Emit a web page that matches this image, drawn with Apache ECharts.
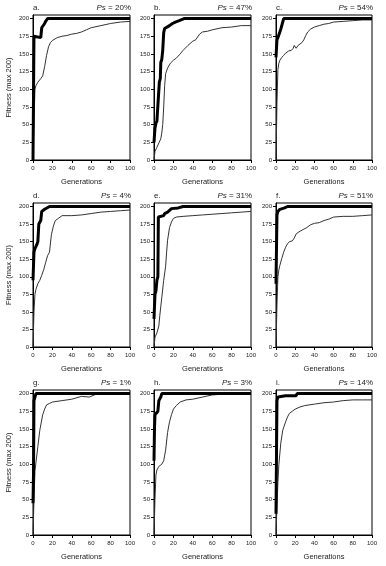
<!DOCTYPE html>
<html><head><meta charset="utf-8">
<script src="https://cdn.jsdelivr.net/npm/echarts@6/dist/echarts.min.js"></script>
<style>html,body{margin:0;padding:0;background:#fff}#c{width:386px;height:566px}</style>
</head><body><div id="c"></div>
<script>
const panelLetters = ['a.','b.','c.','d.','e.','f.','g.','h.','i.'];
const psLabels = ['20%','47%','54%','4%','31%','51%','1%','3%','14%'];
const xTicks = [0,20,40,60,80,100];
const yTicks = [0,25,50,75,100,125,150,175,200];

const bestA = [[0,0],[1,175],[2,173],[8,173],[9,187],[11,188],[12,193],[13,196],[15,200],[100,200]];
const meanA = [[0,0],[1,55],[2,100],[3,105],[5,110],[8,115],[10,119],[12,132],[14,148],[16,160],[18,166],[20,169],[25,173],[30,175],[35,176],[40,178],[45,179],[50,181],[55,184],[60,187],[70,190],[80,193],[90,195],[100,196]];
const bestB = [[0,25],[1,45],[2,52],[3,55],[5,57],[5.5,110],[6,112],[6.5,115],[7,138],[8,142],[9,155],[10,180],[11,186],[13,188],[16,190],[19,193],[22,195],[26,197],[31,200],[100,200]];
const meanB = [[0,0],[1,12],[3,18],[5,24],[7,30],[8,38],[9,50],[10,75],[11,105],[12,122],[14,130],[17,137],[20,141],[23,144],[27,150],[30,155],[35,162],[40,168],[43,170],[47,178],[50,181],[55,182],[60,184],[70,187],[80,188],[90,190],[100,190]];
const bestC = [[0,145],[1,170],[2,173],[4,173],[5,185],[6,190],[7,195],[8,200],[100,200]];
const meanC = [[0,0],[1,80],[2,128],[3,137],[4,141],[6,145],[8,148],[10,151],[13,154],[16,155],[18,158],[19,162],[21,158],[23,162],[25,164],[27,166],[29,170],[31,176],[33,181],[36,185],[40,188],[45,190],[50,192],[55,193],[60,195],[70,196],[80,197],[90,198],[100,198]];
const bestD = [[0,95],[1,135],[2,140],[3,142],[4,146],[5,150],[6,175],[7,177],[8,180],[9,193],[11,194],[12,196],[14,198],[17,200],[100,200]];
const meanD = [[0,0],[1,50],[2,75],[3,82],[5,90],[7,95],[9,102],[11,110],[13,120],[15,130],[17,135],[18,148],[19,160],[21,172],[23,180],[26,183],[30,187],[40,187],[50,188],[60,190],[70,192],[80,193],[90,194],[100,195]];
const bestE = [[0,40],[1,75],[2,80],[3,95],[4,100],[4.5,185],[6,187],[10,187],[11,190],[14,192],[16,194],[18,197],[25,198],[30,200],[100,200]];
const meanE = [[0,0],[1,14],[3,20],[5,30],[6,45],[8,70],[10,95],[12,115],[13,135],[14,152],[16,170],[18,178],[20,183],[23,185],[30,186],[40,187],[50,188],[60,189],[70,190],[80,191],[90,192],[100,193]];
const bestF = [[0,90],[1,188],[2,193],[4,196],[6,197],[9,198],[12,200],[100,200]];
const meanF = [[0,0],[1,60],[2,100],[3,110],[4,116],[6,126],[8,135],[10,142],[12,147],[14,150],[17,151],[19,155],[21,161],[24,164],[28,167],[32,170],[36,174],[40,176],[45,177],[50,180],[55,182],[60,185],[70,186],[80,186],[90,187],[100,188]];
const bestG = [[0,45],[0.5,85],[1,190],[2,195],[3,200],[100,200]];
const meanG = [[0,0],[1,50],[2,90],[3,102],[5,125],[7,148],[10,170],[12,178],[14,184],[17,186],[20,188],[30,190],[40,192],[50,196],[58,195],[65,199],[80,199],[100,199]];
const bestH = [[0,105],[0.5,150],[1,170],[3,172],[4,175],[5,190],[6,192],[7,195],[8,200],[100,200]];
const meanH = [[0,0],[1,50],[2,85],[3,92],[5,97],[8,100],[10,105],[12,120],[14,145],[16,160],[18,170],[20,178],[23,183],[27,188],[33,191],[40,192],[50,195],[60,198],[70,199],[100,199]];
const bestI = [[0,30],[1,190],[2,195],[4,196],[10,197],[21,197],[22,200],[100,200]];
const meanI = [[0,0],[1,40],[2,75],[3,100],[5,130],[7,148],[10,160],[12,167],[14,172],[17,175],[20,178],[25,181],[30,183],[40,185],[50,187],[60,188],[70,190],[80,191],[90,191],[100,191]];

const bestAll = [bestA,bestB,bestC,bestD,bestE,bestF,bestG,bestH,bestI];
const meanAll = [meanA,meanB,meanC,meanD,meanE,meanF,meanG,meanH,meanI];

const colLeft = [33,154,276], colWidth = [97,97,96];
const rowTop = [15,203,390], rowHeight = [145,144,145];
const FONT = 'Liberation Sans, Arial, sans-serif';
const TXT = '#222';

const grid = [], xAxis = [], yAxis = [], series = [], title = [];
for (let i = 0; i < 9; i++) {
  const r = Math.floor(i/3), c = i%3;
  const L = colLeft[c], W = colWidth[c], T = rowTop[r], H = rowHeight[r];
  grid.push({left: L, top: T, width: W, height: H, show: true, borderColor: '#000', borderWidth: 1, backgroundColor: 'transparent'});
  xAxis.push({
    type: 'value', gridIndex: i, min: 0, max: 100, interval: 20,
    name: 'Generations', nameLocation: 'middle', nameGap: 18,
    nameTextStyle: {fontFamily: FONT, fontSize: 7.5, color: TXT},
    axisLine: {lineStyle: {color: '#000', width: 1}},
    axisTick: {show: true, inside: false, length: 3, lineStyle: {color: '#000'}},
    axisLabel: {fontFamily: FONT, fontSize: 6, color: TXT, margin: 5},
    splitLine: {show: false}
  });
  yAxis.push({
    type: 'value', gridIndex: i, min: 0, max: 205, interval: 25,
    name: c === 0 ? 'Fitness (max 200)' : '', nameLocation: 'middle', nameGap: 20,
    nameTextStyle: {fontFamily: FONT, fontSize: 7.5, color: TXT},
    axisLine: {show: true, lineStyle: {color: '#000', width: 1}},
    axisTick: {show: true, inside: false, length: 3, lineStyle: {color: '#000'}, customValues: yTicks},
    axisLabel: {fontFamily: FONT, fontSize: 6, color: TXT, margin: 4, customValues: yTicks,
      formatter: v => (v % 25 === 0 ? String(v) : '')},
    splitLine: {show: false}
  });
  series.push({type: 'line', xAxisIndex: i, yAxisIndex: i, data: meanAll[i], showSymbol: false, symbol: 'none',
    lineStyle: {color: '#333', width: 1}, animation: false, z: 2});
  series.push({type: 'line', xAxisIndex: i, yAxisIndex: i, data: bestAll[i], showSymbol: false, symbol: 'none',
    lineStyle: {color: '#000', width: 3}, animation: false, z: 3});
  title.push({text: panelLetters[i], left: L, top: T - 11, padding: 0,
    textStyle: {fontFamily: FONT, fontSize: 8, fontWeight: 'normal', color: TXT}});
  title.push({text: '{i|Ps} = ' + psLabels[i], right: 386 - (L + W) - 1, top: T - 11, padding: 0,
    textStyle: {fontFamily: FONT, fontSize: 8, fontWeight: 'normal', color: TXT,
      rich: {i: {fontFamily: FONT, fontSize: 8, fontStyle: 'italic', color: TXT}}}});
}

const chart = echarts.init(document.getElementById('c'), null, {renderer: 'canvas'});
chart.setOption({animation: false, backgroundColor: '#fff', title, grid, xAxis, yAxis, series});
</script></body></html>
